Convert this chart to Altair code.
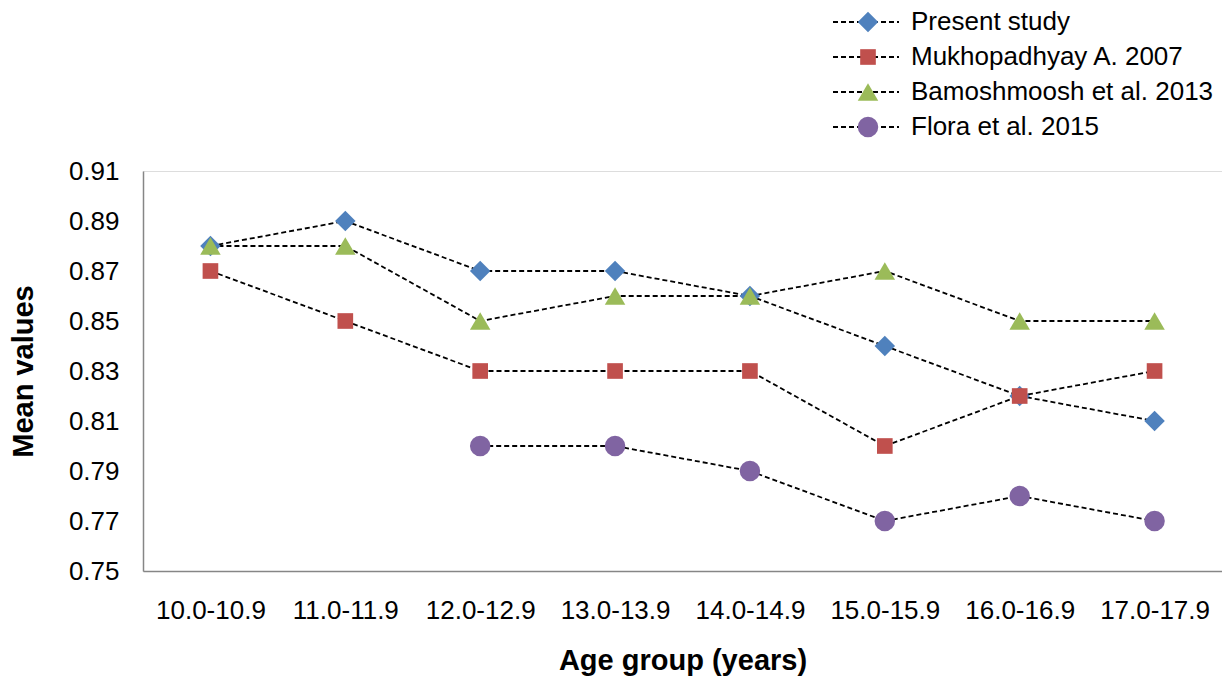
import altair as alt
import pandas as pd

groups = ["10.0-10.9", "11.0-11.9", "12.0-12.9", "13.0-13.9",
          "14.0-14.9", "15.0-15.9", "16.0-16.9", "17.0-17.9"]
series = ["Present study", "Mukhopadhyay A. 2007",
          "Bamoshmoosh et al. 2013", "Flora et al. 2015"]
present = [0.88, 0.89, 0.87, 0.87, 0.86, 0.84, 0.82, 0.81]
mukho = [0.87, 0.85, 0.83, 0.83, 0.83, 0.80, 0.82, 0.83]
bamo = [0.88, 0.88, 0.85, 0.86, 0.86, 0.87, 0.85, 0.85]
flora = [None, None, 0.80, 0.80, 0.79, 0.77, 0.78, 0.77]
y_ticks = [0.75, 0.77, 0.79, 0.81, 0.83, 0.85, 0.87, 0.89, 0.91]

colors = ["#4F81BD", "#C0504D", "#9BBB59", "#8064A2"]
shapes = ["diamond", "square", "triangle-up", "circle"]
sizes = [420, 245, 420, 420]

rows = []
for name, vals in zip(series, [present, mukho, bamo, flora]):
    for g, v in zip(groups, vals):
        if v is not None:
            rows.append({"group": g, "series": name, "value": v})
df = pd.DataFrame(rows)
legdf = pd.DataFrame({"series": series})

FONT = "Liberation Sans"

shape_enc = alt.Shape("series:N", scale=alt.Scale(domain=series, range=shapes), legend=None)
color_enc = alt.Color("series:N", scale=alt.Scale(domain=series, range=colors), legend=None)
size_enc = alt.Size("series:N", scale=alt.Scale(type="ordinal", domain=series, range=sizes),
                    legend=None)

x_enc = alt.X("group:N", sort=groups, scale=alt.Scale(domain=groups),
              axis=alt.Axis(title="Age group (years)", labelAngle=0, ticks=False,
                            domainColor="#868686", domainWidth=1.5,
                            labelFontSize=26, labelColor="black", labelPadding=26,
                            titleFontSize=29, titleFontWeight="bold", titleColor="black",
                            titlePadding=23))
y_scale = alt.Scale(domain=[0.75, 0.91], nice=False, zero=False)
y_axis = alt.Axis(title="Mean values", values=y_ticks, format=".2f", grid=False,
                  ticks=False, domainColor="#868686", domainWidth=1.5,
                  labelFontSize=26, labelColor="black", labelPadding=24,
                  titleFontSize=29, titleFontWeight="bold", titleColor="black",
                  titlePadding=30)

lines = alt.Chart(df).mark_line(color="black", strokeDash=[5, 3], strokeWidth=1.8).encode(
    x=x_enc, y=alt.Y("value:Q", scale=y_scale, axis=y_axis), detail="series:N")
points = alt.Chart(df).mark_point(filled=True, opacity=1).encode(
    x=x_enc, y=alt.Y("value:Q", scale=y_scale, axis=None),
    shape=shape_enc, color=color_enc, size=size_enc)

leg_y = alt.Y("series:N", sort=series,
              scale=alt.Scale(type="point", domain=series, range=[-149, -44], padding=0),
              axis=None)
leg = alt.Chart(legdf)
leg_rule = leg.mark_rule(color="black", strokeDash=[5, 3], strokeWidth=1.8).encode(
    y=leg_y, x=alt.value(690), x2=alt.value(756))
leg_pts = leg.mark_point(filled=True, opacity=1).encode(
    y=leg_y, x=alt.value(725), shape=shape_enc, color=color_enc, size=size_enc)
leg_txt = leg.mark_text(align="left", baseline="middle", fontSize=26, font=FONT,
                        color="black").encode(
    y=leg_y, x=alt.value(768), text="series:N")

chart = alt.layer(lines, points, leg_rule, leg_pts, leg_txt).resolve_scale(
    y="independent"
).properties(
    width=1079, height=400,
    autosize=alt.AutoSizeParams(type="none"),
    padding={"left": 143, "top": 171, "right": 0, "bottom": 108},
).configure_view(stroke=None).configure(font=FONT, background="white")

chart.save("out.html", embed_options={"renderer": "svg", "actions": False})
